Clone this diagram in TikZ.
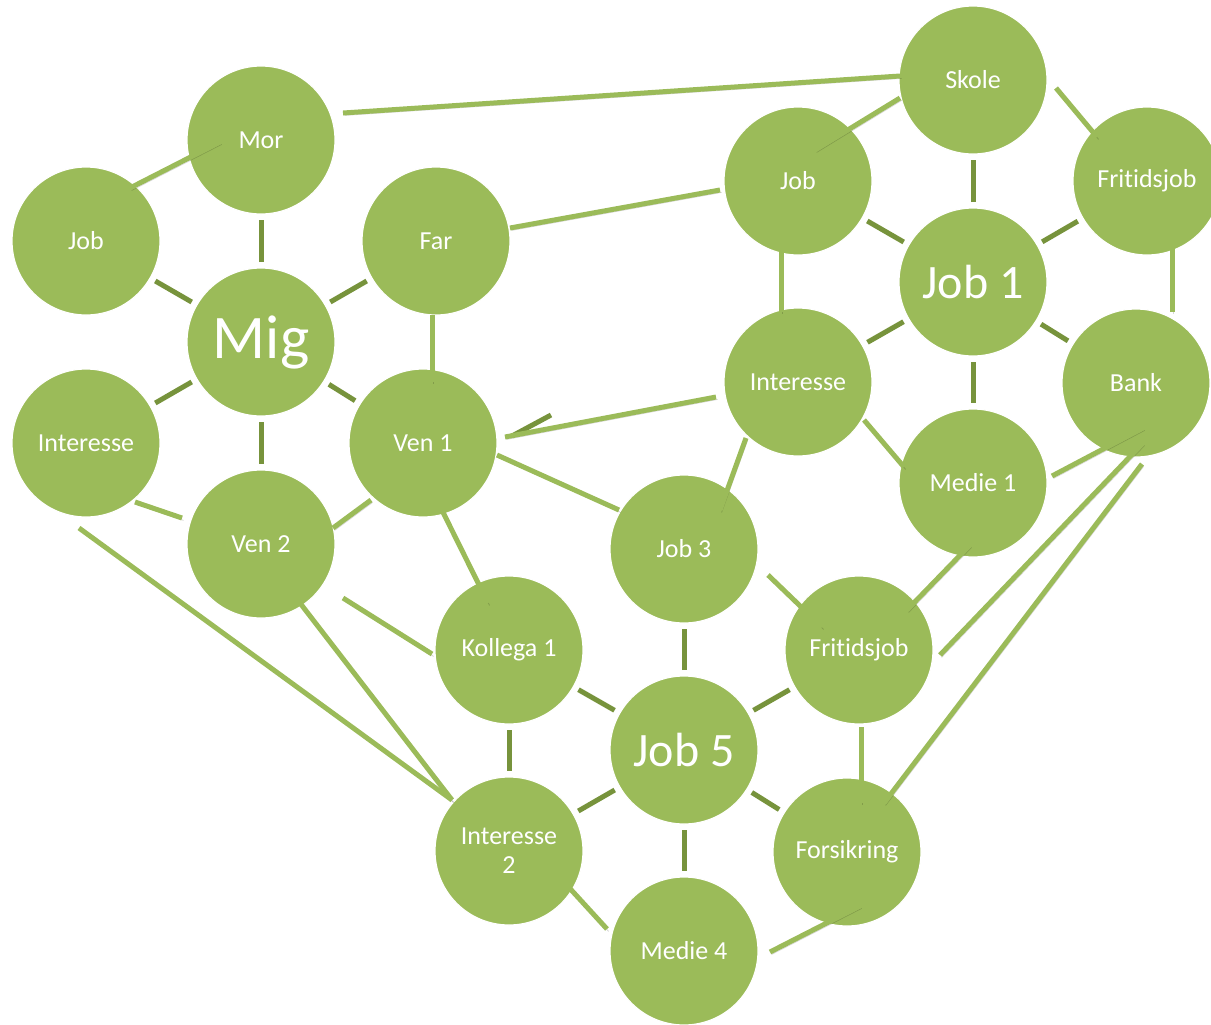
\documentclass[tikz,border=0pt]{standalone}
\usepackage{fontspec}
\setmainfont{Carlito}[RawFeature={-liga;-clig;-dlig;-calt}]
\usetikzlibrary{calc}
\definecolor{mapgreen}{HTML}{9BBB59}
\definecolor{mapdark}{HTML}{77933C}
\tikzset{
  bubble/.style={circle,fill=mapgreen,draw=white,line width=0.6pt,minimum size=74pt,inner sep=0pt,text=white,align=center,font=\fontsize{13}{14.5}\selectfont},
  hub/.style={bubble,font=\fontsize{24}{28}\selectfont},
  bighub/.style={bubble,font=\fontsize{31}{36}\selectfont},
  link/.style={draw=mapgreen,line width=2.5pt,preaction={draw=black,opacity=0.16,transform canvas={shift={(0.8pt,-1.2pt)}}}},
  stub/.style={draw=mapdark,line width=2.5pt},
  spoke/.style={stub,shorten <=40pt,shorten >=40pt},
}
\begin{document}
\begin{tikzpicture}[x=0.5pt,y=-0.5pt]
  \useasboundingbox (0,0) rectangle (1211,1024);
%%
  % Node: Mig and its ring
  \node[bighub] (mig) at (261,342) {Mig};
  \node[bubble] (mor) at (261,140) {Mor};
  \node[bubble] (jobA) at (86,241) {Job};
  \node[bubble] (far) at (436,241) {Far};
  \node[bubble] (intA) at (86,443) {Interesse};
  \node[bubble] (ven1) at (423,443) {Ven 1};
  \node[bubble] (ven2) at (261,544) {Ven 2};
  % Node: Job 1 and its ring
  \node[hub] (job1) at (973,282) {Job 1};
  \node[bubble] (skole) at (973,80) {Skole};
  \node[bubble] (jobB) at (798,181) {Job};
  \node[bubble] (fritB) at (1147,181) {Fritidsjob};
  \node[bubble] (intB) at (798,382) {Interesse};
  \node[bubble] (bank) at (1136,383) {Bank};
  \node[bubble] (medie1) at (973,483) {Medie 1};
  % Node: Job 5 and its ring
  \node[hub] (job5) at (684,750) {Job 5};
  \node[bubble] (job3) at (684,549) {Job 3};
  \node[bubble] (kollega) at (509,650) {Kollega 1};
  \node[bubble] (fritC) at (859,650) {Fritidsjob};
  \node[bubble] (int2) at (509,851) {Interesse\\2};
  \node[bubble] (forsik) at (847,852) {Forsikring};
  \node[bubble] (medie4) at (684,951) {Medie 4};
%%
  % Edge: Mig spokes
  \draw[spoke] (mig.center) -- (mor.center);
  \draw[spoke] (mig.center) -- (jobA.center);
  \draw[spoke] (mig.center) -- (far.center);
  \draw[spoke] (mig.center) -- (intA.center);
  \draw[spoke] (mig.center) -- (ven1.center);
  \draw[spoke] (mig.center) -- (ven2.center);
  % Edge: Job 1 spokes
  \draw[spoke] (job1.center) -- (skole.center);
  \draw[spoke] (job1.center) -- (jobB.center);
  \draw[spoke] (job1.center) -- (fritB.center);
  \draw[spoke] (job1.center) -- (intB.center);
  \draw[spoke] (job1.center) -- (bank.center);
  \draw[spoke] (job1.center) -- (medie1.center);
  % Edge: Job 5 spokes
  \draw[spoke] (job5.center) -- (job3.center);
  \draw[spoke] (job5.center) -- (kollega.center);
  \draw[spoke] (job5.center) -- (fritC.center);
  \draw[spoke] (job5.center) -- (int2.center);
  \draw[spoke] (job5.center) -- (forsik.center);
  \draw[spoke] (job5.center) -- (medie4.center);
  % Edge: Kollega 1 -- Interesse 2
  \draw[spoke] (kollega.center) -- (int2.center);
  % Edge: Ven 1 stub
  \draw[stub] ($(ven1)+(89,-7)$) -- ($(ven1)+(128,-28)$);
%%
  % Edge: Mor -- Skole
  \draw[link] ($(mor)+(82,-27)$) -- ($(skole)+(-73,-4)$);
  % Edge: Mor -- Job
  \draw[link] ($(mor)+(-41,2)$) -- ($(jobA)+(44,-53)$);
  % Edge: Far -- Job
  \draw[link] ($(far)+(74,-13)$) -- ($(jobB)+(-78,9)$);
  % Edge: Far -- Ven 1
  \draw[link] ($(far)+(-4,74)$) -- ($(ven1)+(9,-61)$);
  % Edge: Skole -- Job
  \draw[link] ($(skole)+(-73,18)$) -- ($(jobB)+(17,-31)$);
  % Edge: Skole -- Fritidsjob
  \draw[link] ($(skole)+(83,8)$) -- ($(fritB)+(-50,-44)$);
  % Edge: Job -- Interesse
  \draw[link] ($(jobB)+(-17,56)$) -- ($(intB)+(-17,-70)$);
  % Edge: Fritidsjob -- Bank
  \draw[link] ($(fritB)+(25,56)$) -- ($(bank)+(36,-71)$);
  % Edge: Interesse -- Ven 1
  \draw[link] ($(intB)+(-82,15)$) -- ($(ven1)+(82,-6)$);
  % Edge: Ven 1 -- Job 3
  \draw[link] ($(ven1)+(74,12)$) -- ($(job3)+(-65,-39)$);
  % Edge: Ven 1 -- Kollega 1
  \draw[link] ($(ven1)+(7,43)$) -- ($(kollega)+(-21,-47)$);
  % Edge: Interesse -- Ven 2
  \draw[link] ($(intA)+(49,59)$) -- ($(ven2)+(-79,-26)$);
  % Edge: Ven 2 -- Ven 1
  \draw[link] ($(ven2)+(72,-16)$) -- ($(ven1)+(-52,57)$);
  % Edge: Ven 2 -- Kollega 1
  \draw[link] ($(ven2)+(82,54)$) -- ($(kollega)+(-77,4)$);
  % Edge: Ven 2 -- Interesse 2
  \draw[link] ($(ven2)+(39,59)$) -- ($(int2)+(-57,-51)$);
  % Edge: Interesse -- Interesse 2
  \draw[link] ($(intA)+(-7,85)$) -- ($(int2)+(-57,-51)$);
  % Edge: Interesse -- Medie 1
  \draw[link] ($(intB)+(66,38)$) -- ($(medie1)+(-69,-16)$);
  % Edge: Interesse -- Job 3
  \draw[link] ($(intB)+(-52,56)$) -- ($(job3)+(36,-39)$);
  % Edge: Medie 1 -- Bank
  \draw[link] ($(medie1)+(79,-7)$) -- ($(bank)+(7,45)$);
  % Edge: Medie 1 -- Fritidsjob
  \draw[link] ($(medie1)+(-3,62)$) -- ($(fritC)+(48,-40)$);
  % Edge: Bank -- Fritidsjob
  \draw[link] ($(bank)+(7,60)$) -- ($(fritC)+(81,5)$);
  % Edge: Bank -- Forsikring
  \draw[link] ($(bank)+(6,81)$) -- ($(forsik)+(37,-49)$);
  % Edge: Job 3 -- Fritidsjob
  \draw[link] ($(job3)+(84,26)$) -- ($(fritC)+(-37,-23)$);
  % Edge: Fritidsjob -- Forsikring
  \draw[link] ($(fritC)+(2,77)$) -- ($(forsik)+(14,-49)$);
  % Edge: Interesse 2 -- Medie 4
  \draw[link] ($(int2)+(55,31)$) -- ($(medie4)+(-77,-22)$);
  % Edge: Medie 4 -- Forsikring
  \draw[link] ($(medie4)+(86,1)$) -- ($(forsik)+(13,54)$);
%
\end{tikzpicture}
\end{document}
